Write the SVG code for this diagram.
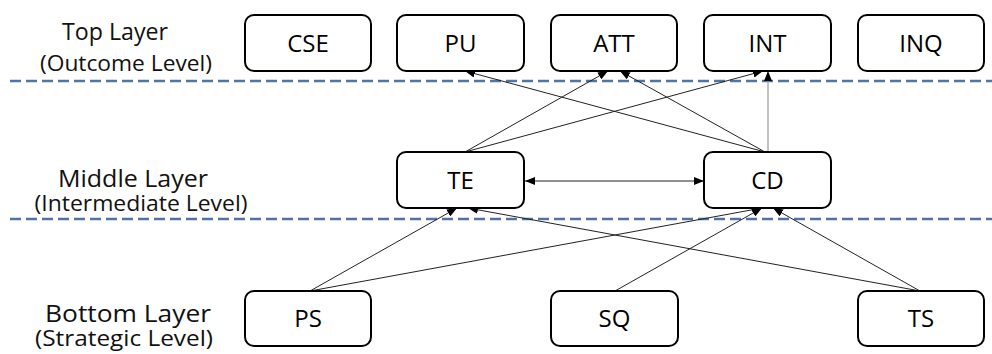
<svg xmlns="http://www.w3.org/2000/svg" width="992" height="354" viewBox="0 0 992 354">
<style>
.box{fill:#fff;stroke:#000;stroke-width:2}
.lbl{font-family:"Open Sans","Noto Sans",sans-serif;font-size:24px;fill:#000;text-anchor:middle}
.h{font-family:"Open Sans","Noto Sans",sans-serif;font-size:24px;fill:#111;text-anchor:middle}
.s{font-family:"Open Sans","Noto Sans",sans-serif;font-size:22px;fill:#111;text-anchor:middle}
.dash{stroke:#4f74a6;stroke-width:2.5;stroke-dasharray:11 5;fill:none}
.c{stroke:#222;stroke-width:1;fill:none;marker-end:url(#ah)}
.g{stroke:#999;stroke-width:1.2;fill:none;marker-end:url(#ah)}
</style>
<defs>
<marker id="ah" viewBox="0 0 10 8" refX="10" refY="4" markerWidth="10" markerHeight="8" markerUnits="userSpaceOnUse" orient="auto-start-reverse">
<path d="M0,0 L10,4 L0,8 z" fill="#000"/>
</marker>
</defs>
<rect width="992" height="354" fill="#fff"/>
<g id="layer-labels">
<text class="h" x="115" y="40" textLength="106" lengthAdjust="spacingAndGlyphs">Top Layer</text>
<text class="s" x="126" y="71" textLength="172" lengthAdjust="spacingAndGlyphs">(Outcome Level)</text>
<text class="h" x="133" y="187" textLength="150" lengthAdjust="spacingAndGlyphs">Middle Layer</text>
<text class="s" x="141" y="211" textLength="213" lengthAdjust="spacingAndGlyphs">(Intermediate Level)</text>
<text class="h" x="128" y="322" textLength="166" lengthAdjust="spacingAndGlyphs">Bottom Layer</text>
<text class="s" x="124" y="346" textLength="178" lengthAdjust="spacingAndGlyphs">(Strategic Level)</text>
</g>
<g id="dividers">
<line class="dash" x1="10" y1="81" x2="992" y2="81"/>
<line class="dash" x1="10" y1="219" x2="992" y2="219"/>
</g>
<g id="connectors">
<line class="c" x1="465" y1="152" x2="608" y2="71"/>
<line class="c" x1="465" y1="152" x2="763" y2="71"/>
<line class="c" x1="765" y1="152" x2="465" y2="71"/>
<line class="c" x1="765" y1="152" x2="620" y2="71"/>
<line class="g" x1="768" y1="152" x2="768" y2="71"/>
<line class="c" x1="525" y1="181" x2="704" y2="181" marker-start="url(#ah)"/>
<line class="c" x1="310" y1="291" x2="457" y2="208"/>
<line class="c" x1="310" y1="291" x2="762" y2="208"/>
<line class="c" x1="615" y1="291" x2="762" y2="208"/>
<line class="c" x1="920" y1="291" x2="468" y2="208"/>
<line class="c" x1="920" y1="291" x2="773" y2="208"/>
</g>
<g id="CSE"><rect class="box" x="245" y="15" width="126" height="56" rx="9"/><text class="lbl" x="308" y="52">CSE</text></g>
<g id="PU"><rect class="box" x="397" y="15" width="127" height="56" rx="9"/><text class="lbl" x="460.5" y="52">PU</text></g>
<g id="ATT"><rect class="box" x="551" y="15" width="126" height="56" rx="9"/><text class="lbl" x="614" y="52">ATT</text></g>
<g id="INT"><rect class="box" x="704" y="15" width="127" height="56" rx="9"/><text class="lbl" x="767.5" y="52">INT</text></g>
<g id="INQ"><rect class="box" x="858" y="15" width="126" height="56" rx="9"/><text class="lbl" x="921" y="52">INQ</text></g>
<g id="TE"><rect class="box" x="397" y="152" width="127" height="56" rx="9"/><text class="lbl" x="460.5" y="189">TE</text></g>
<g id="CD"><rect class="box" x="704" y="152" width="127" height="56" rx="9"/><text class="lbl" x="767.5" y="189">CD</text></g>
<g id="PS"><rect class="box" x="245" y="291" width="126" height="55" rx="9"/><text class="lbl" x="308" y="327">PS</text></g>
<g id="SQ"><rect class="box" x="551" y="291" width="127" height="55" rx="9"/><text class="lbl" x="614.5" y="327">SQ</text></g>
<g id="TS"><rect class="box" x="858" y="291" width="126" height="55" rx="9"/><text class="lbl" x="921" y="327">TS</text></g>
</svg>
